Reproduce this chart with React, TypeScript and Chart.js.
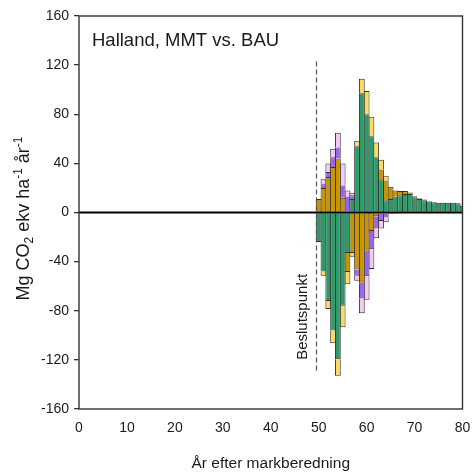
import React, { useEffect, useRef } from "react";
import { Chart, registerables } from "chart.js";

Chart.register(...registerables);

const FONT = "'Liberation Sans', Arial, Helvetica, sans-serif";

// Years after soil preparation (bars are centred on each year)
const years = [
  50, 51, 52, 53, 54, 55, 56, 57, 58, 59, 60, 61, 62, 63, 64, 65,
  66, 67, 68, 69, 70, 71, 72, 73, 74, 75, 76, 77, 78, 79, 80,
];

// Positive contributions, Mg CO2-eq per ha and year
const greenUp = [
  null, null, null, null, null, null, null, 11, 54, 97, 80, 62, 45, 27, 10, 11,
  13, 14, 15, 15, 12.5, 11, 10, 9, 8.4, 8, 8, 8, 8, 7.6, 5.5,
];
const goldUp = [
  11, 20, 29, 37, 44, 12, 1, null, null, null, null, null, null, 8, 16, 10,
  5, 3.5, 2.5, 1.2, 0.8, 0.6, 0.5, 0.3, null, null, null, null, null, null, null,
];
const purpleUp = [
  null, 3, 4, 8, 9, 10, 12, 3, null, null, null, null, null, null, null, null,
  null, null, null, null, null, null, null, null, null, null, null, null, null, null, null,
];
const pinkUp = [
  null, 4, 7, 7, 12, 18, 5, 2, null, null, null, null, null, null, null, null,
  null, null, null, null, null, null, null, null, null, null, null, null, null, null, null,
];
const yellowUp = [
  null, null, null, null, null, null, null, null, 4.5, 12, 19, 16, 12, 8, 4, null,
  null, null, null, null, null, null, null, null, null, null, null, null, null, null, null,
];

// Negative contributions
const greenDown = [
  -24, -48, -72, -96, -119.5, -76, -33, null, null, null, null, null, null, null, -1, -1,
  -1, null, null, null, null, null, null, null, null, null, null, null, null, null, null,
];
const goldDown = [
  null, null, null, null, null, null, -15.5, -33, -46.5, -58, -32, -15, -3, -1, null, null,
  null, null, null, null, null, null, null, null, null, null, null, null, null, null, null,
];
const purpleDown = [
  null, null, null, null, null, null, null, null, -5, -12, -20, -15, -10, -6, -3, null,
  null, null, null, null, null, null, null, null, null, null, null, null, null, null, null,
];
const pinkDown = [
  null, null, null, null, null, null, null, null, -4, -12, -19, -16, -8, -6, -4, null,
  null, null, null, null, null, null, null, null, null, null, null, null, null, null, null,
];
const yellowDown = [
  null, -3.5, -6.5, -10.5, -13.5, -17.5, -10, -3, null, null, null, null, null, null, null, null,
  null, null, null, null, null, null, null, null, null, null, null, null, null, null, null,
];

const decisionYear = 49.5;
const decisionSpan = [123, -131];

const GREEN = "#2e9a6a";
const GOLD = "#c99400";
const PURPLE = "#9a63f2";
const PINK = "#f4c8f2";
const YELLOW = "#ffd862";
const EDGE = "#333333";
const INK = "#1a1a1a";

export default function App() {
  const ref = useRef<HTMLCanvasElement>(null);

  useEffect(() => {
    const canvas = ref.current;
    if (!canvas) return;

    const toPoints = (vals: (number | null)[]) =>
      years.map((x, i) => ({ x, y: vals[i] }));

    const series: [string, (number | null)[], string][] = [
      ["green+", greenUp, GREEN],
      ["green-", greenDown, GREEN],
      ["gold+", goldUp, GOLD],
      ["gold-", goldDown, GOLD],
      ["purple+", purpleUp, PURPLE],
      ["purple-", purpleDown, PURPLE],
      ["pink+", pinkUp, PINK],
      ["pink-", pinkDown, PINK],
      ["yellow+", yellowUp, YELLOW],
      ["yellow-", yellowDown, YELLOW],
    ];

    const annotate = {
      id: "annotate",
      afterDatasetsDraw(chart: any) {
        const { ctx, chartArea: a, scales } = chart;
        const xs = scales.x;
        const ys = scales.y;
        ctx.save();

        // zero line
        const y0 = ys.getPixelForValue(0);
        ctx.strokeStyle = "#000";
        ctx.lineWidth = 2;
        ctx.beginPath();
        ctx.moveTo(a.left, y0);
        ctx.lineTo(a.right, y0);
        ctx.stroke();

        // plot frame
        ctx.strokeStyle = EDGE;
        ctx.lineWidth = 1.4;
        ctx.strokeRect(a.left, a.top, a.right - a.left, a.bottom - a.top);

        // decision point
        const xd = Math.round(xs.getPixelForValue(decisionYear)) + 0.5;
        ctx.strokeStyle = "#555";
        ctx.lineWidth = 1.2;
        ctx.setLineDash([5, 3]);
        ctx.beginPath();
        ctx.moveTo(xd, ys.getPixelForValue(decisionSpan[0]));
        ctx.lineTo(xd, ys.getPixelForValue(decisionSpan[1]));
        ctx.stroke();
        ctx.setLineDash([]);

        ctx.fillStyle = INK;
        ctx.save();
        ctx.translate(xd - 14, ys.getPixelForValue(-85));
        ctx.rotate(-Math.PI / 2);
        ctx.font = `15px ${FONT}`;
        ctx.textAlign = "center";
        ctx.textBaseline = "middle";
        ctx.fillText("Beslutspunkt", 0, 0);
        ctx.restore();

        // panel title
        ctx.font = `18.5px ${FONT}`;
        ctx.textAlign = "left";
        ctx.textBaseline = "alphabetic";
        ctx.fillText("Halland, MMT vs. BAU", a.left + 13, a.top + 30);

        // x axis title
        ctx.font = `15.5px ${FONT}`;
        ctx.textAlign = "center";
        ctx.fillText("År efter markberedning", (a.left + a.right) / 2, 468);

        // y axis title with sub/superscripts
        const parts: [string, number][] = [
          ["Mg CO", 0],
          ["2", 1],
          [" ekv ha", 0],
          ["-1", -1],
          [" år", 0],
          ["-1", -1],
        ];
        const big = `18px ${FONT}`;
        const small = `12px ${FONT}`;
        let total = 0;
        for (const [t, k] of parts) {
          ctx.font = k === 0 ? big : small;
          total += ctx.measureText(t).width;
        }
        ctx.save();
        ctx.translate(29, (a.top + a.bottom) / 2 + 6);
        ctx.rotate(-Math.PI / 2);
        ctx.textAlign = "left";
        ctx.textBaseline = "alphabetic";
        let cx = -total / 2;
        for (const [t, k] of parts) {
          ctx.font = k === 0 ? big : small;
          const dy = k === 1 ? 4 : k === -1 ? -7 : 0;
          ctx.fillText(t, cx, dy);
          cx += ctx.measureText(t).width;
        }
        ctx.restore();

        ctx.restore();
      },
    };

    const chart = new Chart(canvas, {
      type: "bar",
      data: {
        datasets: series.map(([label, vals, color]) => ({
          label,
          data: toPoints(vals),
          backgroundColor: color,
          borderColor: EDGE,
          borderWidth: 1,
          borderSkipped: "start",
          barPercentage: 1.21,
          categoryPercentage: 1,
          clip: 0,
          stack: "all",
        })),
      } as any,
      options: {
        animation: false,
        responsive: false,
        devicePixelRatio: 1,
        layout: { padding: { top: 16, right: 9.5, left: 0, bottom: 0 } },
        plugins: {
          legend: { display: false },
          tooltip: { enabled: false },
          title: { display: false },
        },
        scales: {
          x: {
            type: "linear",
            min: 0,
            max: 80,
            offset: false,
            stacked: true,
            ticks: {
              stepSize: 10,
              color: INK,
              font: { family: FONT, size: 14 },
              padding: 11,
              maxRotation: 0,
            },
            grid: { drawOnChartArea: false, drawTicks: false, offset: false },
            border: { display: false },
            afterFit: (s: any) => {
              s.height = 67;
              s.paddingLeft = 0;
              s.paddingRight = 0;
            },
          },
          y: {
            min: -160,
            max: 160,
            stacked: true,
            ticks: {
              stepSize: 40,
              color: INK,
              font: { family: FONT, size: 14 },
              padding: 5,
            },
            grid: {
              drawOnChartArea: false,
              drawTicks: true,
              tickLength: 5,
              color: EDGE,
              lineWidth: 1.3,
            },
            border: { display: false },
            afterFit: (s: any) => {
              s.width = 79;
              s.paddingTop = 0;
              s.paddingBottom = 0;
            },
          },
        },
      } as any,
      plugins: [annotate],
    });

    return () => chart.destroy();
  }, []);

  return (
    <div
      style={{
        position: "fixed",
        left: 0,
        top: 0,
        width: 472,
        height: 476,
        background: "#fff",
      }}
    >
      <canvas ref={ref} width={472} height={476} style={{ display: "block" }} />
    </div>
  );
}
